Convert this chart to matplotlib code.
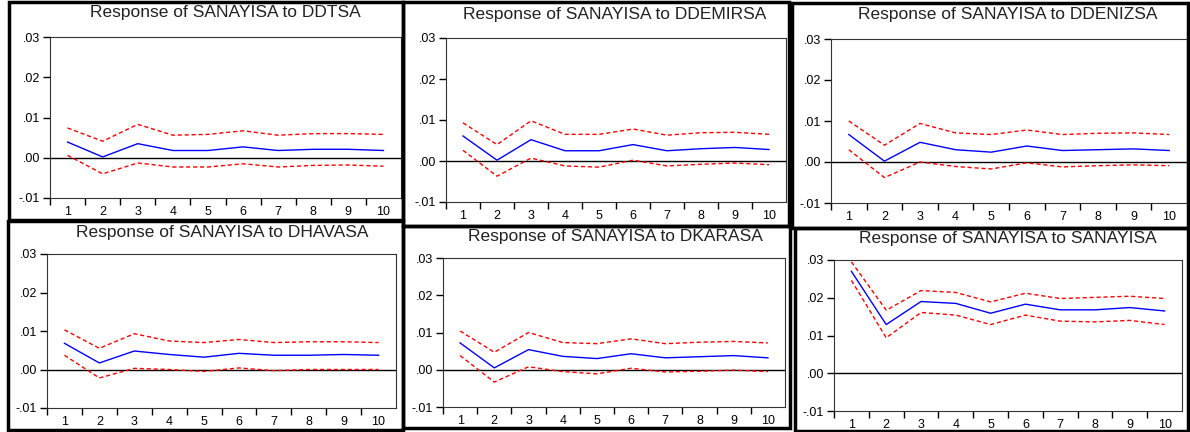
import matplotlib.pyplot as plt
from matplotlib.patches import Rectangle

# periods
periods = [1, 2, 3, 4, 5, 6, 7, 8, 9, 10]

shocks = ["DDTSA", "DDEMIRSA", "DDENIZSA", "DHAVASA", "DKARASA", "SANAYISA"]

ddtsa_resp = [0.0039, 0.0002, 0.0035, 0.0018, 0.0018, 0.0027, 0.0018, 0.0021, 0.0021, 0.0018]
ddtsa_up = [0.0074, 0.0041, 0.0083, 0.0056, 0.0058, 0.0067, 0.0056, 0.0060, 0.0060, 0.0058]
ddtsa_lo = [0.0006, -0.0040, -0.0013, -0.0023, -0.0023, -0.0015, -0.0023, -0.0019, -0.0018, -0.0021]

ddemirsa_resp = [0.0061, 0.0002, 0.0052, 0.0025, 0.0025, 0.0040, 0.0025, 0.0030, 0.0033, 0.0028]
ddemirsa_up = [0.0093, 0.0040, 0.0098, 0.0065, 0.0065, 0.0078, 0.0063, 0.0069, 0.0070, 0.0065]
ddemirsa_lo = [0.0026, -0.0037, 0.0007, -0.0012, -0.0015, 0.0002, -0.0012, -0.0008, -0.0005, -0.0009]

ddenizsa_resp = [0.0067, 0.0002, 0.0048, 0.0030, 0.0024, 0.0039, 0.0028, 0.0030, 0.0032, 0.0028]
ddenizsa_up = [0.0100, 0.0041, 0.0094, 0.0071, 0.0067, 0.0078, 0.0067, 0.0070, 0.0071, 0.0067]
ddenizsa_lo = [0.0030, -0.0038, 0.0000, -0.0011, -0.0017, -0.0002, -0.0012, -0.0009, -0.0007, -0.0009]

dhavasa_resp = [0.0068, 0.0017, 0.0048, 0.0039, 0.0032, 0.0042, 0.0037, 0.0037, 0.0039, 0.0037]
dhavasa_up = [0.0103, 0.0055, 0.0093, 0.0074, 0.0070, 0.0078, 0.0070, 0.0072, 0.0072, 0.0070]
dhavasa_lo = [0.0037, -0.0022, 0.0003, 0.0000, -0.0005, 0.0004, -0.0003, 0.0000, 0.0000, 0.0000]

dkarasa_resp = [0.0072, 0.0005, 0.0054, 0.0036, 0.0030, 0.0043, 0.0032, 0.0035, 0.0038, 0.0032]
dkarasa_up = [0.0104, 0.0047, 0.0100, 0.0073, 0.0070, 0.0083, 0.0070, 0.0074, 0.0076, 0.0072]
dkarasa_lo = [0.0038, -0.0033, 0.0008, -0.0005, -0.0011, 0.0004, -0.0006, -0.0004, -0.0001, -0.0005]

sanayisa_resp = [0.0270, 0.0129, 0.0190, 0.0185, 0.0159, 0.0183, 0.0168, 0.0168, 0.0174, 0.0165]
sanayisa_up = [0.0295, 0.0167, 0.0219, 0.0214, 0.0189, 0.0212, 0.0198, 0.0201, 0.0204, 0.0198]
sanayisa_lo = [0.0246, 0.0094, 0.0161, 0.0154, 0.0129, 0.0154, 0.0138, 0.0136, 0.0140, 0.0129]

y_ticks = [-0.01, 0.0, 0.01, 0.02, 0.03]
y_labels = ["-.01", ".00", ".01", ".02", ".03"]

responses = [ddtsa_resp, ddemirsa_resp, ddenizsa_resp, dhavasa_resp, dkarasa_resp, sanayisa_resp]
uppers = [ddtsa_up, ddemirsa_up, ddenizsa_up, dhavasa_up, dkarasa_up, sanayisa_up]
lowers = [ddtsa_lo, ddemirsa_lo, ddenizsa_lo, dhavasa_lo, dkarasa_lo, sanayisa_lo]

W, H = 1190, 432

# pixel boxes (left, top, right, bottom)
axes_px = [(50, 37, 401, 198), (446, 38, 786, 202), (831, 39, 1187, 203),
           (47, 254, 396, 408), (443, 258, 785, 407), (834, 260, 1182, 411)]
border_px = [(9, 2, 403, 220), (403, 2, 789, 226), (792, 3, 1188, 228),
             (8, 221, 403, 430), (403, 226, 790, 428), (795, 228, 1188, 431)]
title_px = [(225, 12), (615, 15), (1008, 14), (222, 233), (615, 236), (1008, 238)]

plt.rcParams['font.family'] = ['Liberation Sans', 'DejaVu Sans']

fig = plt.figure(figsize=(W / 100, H / 100), dpi=100)

for i in range(6):
    l, t, r, b = axes_px[i]
    ax = fig.add_axes([l / W, 1 - b / H, (r - l) / W, (b - t) / H])
    ax.axhline(0, color="black", lw=1)
    ax.plot(periods, uppers[i], color="red", lw=1, dashes=(3, 2))
    ax.plot(periods, lowers[i], color="red", lw=1, dashes=(3, 2))
    ax.plot(periods, responses[i], color="blue", lw=1)
    ax.set_xlim(0.5, 10.5)
    ax.set_ylim(-0.01, 0.03)
    ax.set_yticks(y_ticks)
    ax.set_yticklabels(y_labels, fontsize=9)
    ax.set_xticks([p - 0.5 for p in periods])
    ax.set_xticklabels([])
    ax.set_xticks(periods, minor=True)
    ax.set_xticklabels([str(p) for p in periods], minor=True, fontsize=9)
    ax.tick_params(axis="x", which="minor", length=0, pad=6)
    ax.tick_params(axis="both", which="major", direction="out", length=5, width=1)
    ax.tick_params(axis="y", pad=2)
    for s in ax.spines.values():
        s.set_linewidth(0.8)
        s.set_color("#333333")

    tx, ty = title_px[i]
    fig.text(tx / W, 1 - ty / H, "Response of SANAYISA to " + shocks[i],
             ha="center", va="center", fontsize=12.5, color="#222222")

    bl, bt, br, bb = border_px[i]
    fig.patches.append(Rectangle((bl / W, 1 - bb / H), (br - bl) / W, (bb - bt) / H,
                                 transform=fig.transFigure, fill=False,
                                 edgecolor="black", lw=2.5))

fig.savefig("out.png", dpi=100)
